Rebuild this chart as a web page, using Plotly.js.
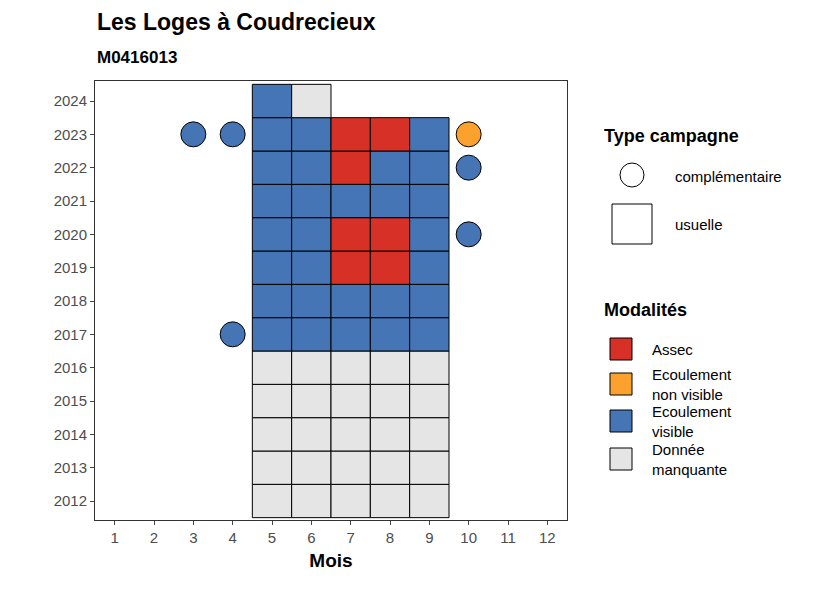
<html><head><meta charset="utf-8">
<script src="https://cdn.plot.ly/plotly-3.0.1.min.js"></script></head>
<body style="margin:0"><div id="myDiv" style="width:826px;height:590px"></div>
<script>
const months = [1,2,3,4,5,6,7,8,9,10,11,12];
const years = [2012,2013,2014,2015,2016,2017,2018,2019,2020,2021,2022,2023,2024];
// usual campaign cells: [month, year, modality]
const usualMonth = [], usualYear = [], usualMod = [];
for (const y of [2012,2013,2014,2015,2016]) for (const m of [5,6,7,8,9]) { usualMonth.push(m); usualYear.push(y); usualMod.push("Donnée manquante"); }
const redCells = {"2023":[7,8],"2022":[7],"2020":[7,8],"2019":[7,8]};
for (const y of [2017,2018,2019,2020,2021,2022,2023]) for (const m of [5,6,7,8,9]) {
  usualMonth.push(m); usualYear.push(y);
  usualMod.push((redCells[y] || []).includes(m) ? "Assec" : "Ecoulement visible");
}
usualMonth.push(5, 6); usualYear.push(2024, 2024); usualMod.push("Ecoulement visible", "Donnée manquante");
// complementary campaigns
const compMonth = [3, 4, 10, 10, 10, 4];
const compYear = [2023, 2023, 2023, 2022, 2020, 2017];
const compMod = ["Ecoulement visible","Ecoulement visible","Ecoulement non visible","Ecoulement visible","Ecoulement visible","Ecoulement visible"];
const modalities = ["Assec","Ecoulement non visible","Ecoulement visible","Donnée manquante"];
const modLabels = ["Assec","Ecoulement<br>non visible","Ecoulement<br>visible","Donnée<br>manquante"];
const colors = {"Assec":"#D73027","Ecoulement non visible":"#FDA12E","Ecoulement visible":"#4575B4","Donnée manquante":"#E5E5E5"};

const L = 95, R = 567, T = 81, B = 520;
const px = x => (x - L) / (R - L), py = y => (B - y) / (B - T);

const shapes = usualMonth.map((m, i) => ({
  type: "rect", xref: "x", yref: "y", x0: m - 0.5, x1: m + 0.5,
  y0: usualYear[i] - 0.5, y1: usualYear[i] + 0.5,
  fillcolor: colors[usualMod[i]], line: {color: "black", width: 1}, layer: "above"
}));
const annotations = [
  {text: "<b>Les Loges à Coudrecieux</b>", xref: "paper", yref: "paper", x: 0, y: py(22), xanchor: "left", yanchor: "middle", showarrow: false, font: {size: 23, color: "black"}},
  {text: "<b>M0416013</b>", xref: "paper", yref: "paper", x: 0, y: py(58), xanchor: "left", yanchor: "middle", showarrow: false, font: {size: 17, color: "black"}},
  {text: "<b>Type campagne</b>", xref: "paper", yref: "paper", x: px(602), y: py(136), xanchor: "left", yanchor: "middle", showarrow: false, font: {size: 18, color: "black"}},
  {text: "complémentaire", xref: "paper", yref: "paper", x: px(673), y: py(176), xanchor: "left", yanchor: "middle", showarrow: false, font: {size: 15, color: "black"}},
  {text: "usuelle", xref: "paper", yref: "paper", x: px(673), y: py(224), xanchor: "left", yanchor: "middle", showarrow: false, font: {size: 15, color: "black"}},
  {text: "<b>Modalités</b>", xref: "paper", yref: "paper", x: px(602), y: py(310), xanchor: "left", yanchor: "middle", showarrow: false, font: {size: 18, color: "black"}}
];
shapes.push({type: "circle", xref: "paper", yref: "paper", x0: px(620), x1: px(644), y0: py(187), y1: py(163), line: {color: "black", width: 1}, fillcolor: "white"});
shapes.push({type: "rect", xref: "paper", yref: "paper", x0: px(612), x1: px(652), y0: py(244), y1: py(204), line: {color: "black", width: 1}, fillcolor: "white"});
const legY = [349, 384, 421, 459];
modalities.forEach((mo, i) => {
  shapes.push({type: "rect", xref: "paper", yref: "paper", x0: px(610), x1: px(632), y0: py(legY[i] + 11), y1: py(legY[i] - 11), line: {color: "black", width: 1}, fillcolor: colors[mo]});
  annotations.push({text: modLabels[i], xref: "paper", yref: "paper", x: px(650), y: py(legY[i]), xanchor: "left", yanchor: "middle", align: "left", showarrow: false, font: {size: 15, color: "black"}});
});

const data = [{
  type: "scatter", mode: "markers", x: compMonth, y: compYear, hoverinfo: "skip",
  marker: {size: 25, color: compMod.map(m => colors[m]), line: {color: "black", width: 1}}
}];
const layout = {
  width: 826, height: 590, showlegend: false, paper_bgcolor: "white", plot_bgcolor: "white",
  margin: {l: L, r: 826 - R, t: T, b: 590 - B},
  font: {family: "Liberation Sans, Arial, sans-serif"},
  xaxis: {range: [0.5, 12.5], tickvals: months, ticks: "outside", ticklen: 4, showgrid: false, zeroline: false,
    showline: true, mirror: true, linecolor: "#333", linewidth: 1, tickfont: {size: 15, color: "#4d4d4d"},
    title: {text: "<b>Mois</b>", font: {size: 19, color: "black"}, standoff: 8}},
  yaxis: {range: [2011.43, 2024.6], tickvals: years, ticks: "outside", ticklen: 4, showgrid: false, zeroline: false,
    showline: true, mirror: true, linecolor: "#333", linewidth: 1, tickfont: {size: 15, color: "#4d4d4d"}},
  shapes: shapes, annotations: annotations
};
Plotly.newPlot("myDiv", data, layout, {displayModeBar: false});
</script></body></html>
